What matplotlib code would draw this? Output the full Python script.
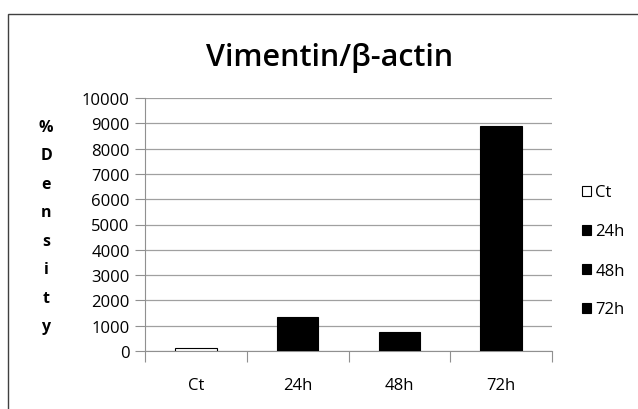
import matplotlib
matplotlib.use("Agg")
import matplotlib.pyplot as plt
from matplotlib.patches import Rectangle, Patch

categories = ["Ct", "24h", "48h", "72h"]
values = [100, 1350, 750, 8900]
face_colors = ["white", "black", "black", "black"]
yticks = list(range(0, 10001, 1000))
title = "Vimentin/\u03b2-actin"
ylabel_letters = ["%", "D", "e", "n", "s", "i", "t", "y"]

W, H = 638, 410
fig = plt.figure(figsize=(W / 100, H / 100), dpi=100)
font = ["Open Sans", "DejaVu Sans"]

# outer frame
fig.patches.append(Rectangle((8 / W, -0.1), 1.2, (H - 15) / H + 0.1, transform=fig.transFigure,
                             fill=False, edgecolor="#404040", linewidth=1.0))

ax = fig.add_axes([145 / W, (H - 352) / H, (552 - 145) / W, (352 - 99) / H])
x = list(range(len(categories)))
ax.bar(x, values, width=0.41, color=face_colors, edgecolor="black", linewidth=0.8, zorder=3)
ax.set_xlim(-0.5, len(categories) - 0.5)
ax.set_ylim(0, 10000)
ax.set_yticks(yticks)
ax.set_yticklabels([str(v) for v in yticks], fontfamily=font, fontsize=12)
ax.set_xticks([i - 0.5 for i in range(len(categories) + 1)], minor=False)
ax.set_xticklabels([])
ax.set_xticks(x, minor=True)
ax.set_xticklabels(categories, minor=True, fontfamily=font, fontsize=12)
ax.tick_params(axis="x", which="major", length=8, color="#909090", direction="out")
ax.tick_params(axis="x", which="minor", length=0, pad=19)
ax.tick_params(axis="y", length=7, color="#909090", direction="out", pad=4)
ax.grid(axis="y", color="#a0a0a0", linewidth=0.9, zorder=0)
for s in ["top", "right"]:
    ax.spines[s].set_visible(False)
ax.spines["left"].set_color("#909090")
ax.spines["bottom"].set_color("#909090")

fig.text(330 / W, 1 - 58 / H, title, ha="center", va="center", fontsize=22,
         fontweight="semibold", fontfamily=font)

y0, y1 = 128, 327
n = len(ylabel_letters)
for i, ch in enumerate(ylabel_letters):
    yy = y0 + (y1 - y0) * i / (n - 1)
    fig.text(46 / W, 1 - yy / H, ch, ha="center", va="center", fontsize=11.5,
             fontweight="bold", fontfamily=font)

handles = [Patch(facecolor=c, edgecolor="black", linewidth=0.8) for c in face_colors]
leg = fig.legend(handles, categories, loc="center left", bbox_to_anchor=(582 / W, 1 - 252 / H),
                 frameon=False, prop={"family": font, "size": 12}, handlelength=0.55,
                 handleheight=0.55, handletextpad=0.25, labelspacing=1.38, borderpad=0,
                 borderaxespad=0)

fig.savefig("out.png", dpi=100)
